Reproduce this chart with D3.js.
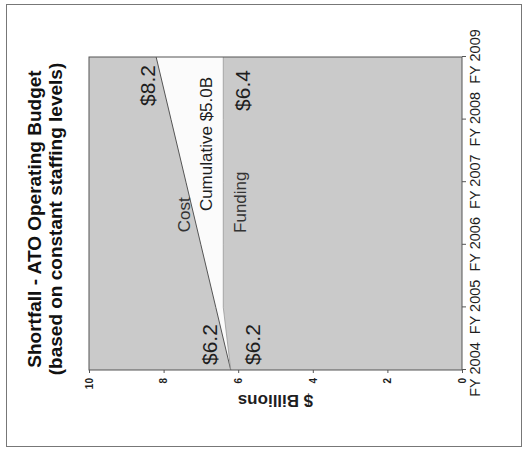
<!DOCTYPE html>
<html>
<head>
<meta charset="utf-8">
<script src="https://cdn.jsdelivr.net/npm/d3@7"></script>
<style>
  body { margin: 0; background: #fff; }
  svg { display: block; }
  text { font-family: "Liberation Sans", Arial, sans-serif; }
</style>
</head>
<body>
<svg id="chart" width="523" height="452"></svg>
<script>
// Fiscal years on the category axis
const years = ["FY 2004", "FY 2005", "FY 2006", "FY 2007", "FY 2008", "FY 2009"];
// Operating cost at constant staffing levels ($ billions)
const cost = [6.2, 6.6, 7.0, 7.4, 7.8, 8.2];
// Funding available ($ billions)
const funding = [6.2, 6.4, 6.4, 6.4, 6.4, 6.4];
// Value-axis ticks
const yTicks = [0, 2, 4, 6, 8, 10];
const titleLines = ["Shortfall - ATO Operating Budget", "(based on constant staffing levels)"];
const shortfallLabel = "Cumulative $5.0B";
const yTitle = "$ Billions";

const W = 523, H = 452;
const GRAY = "#cacaca";
const INK = "#1e1e1e";

const svg = d3.select("#chart");

// Slide frame
svg.append("rect")
  .attr("x", 6.5).attr("y", 4.5)
  .attr("width", 515).attr("height", 442)
  .attr("fill", "none").attr("stroke", "#777").attr("stroke-width", 1);

// The slide is laid out upright (H wide, W tall) and turned a quarter turn counter-clockwise.
const g = svg.append("g").attr("transform", `translate(0,${H}) rotate(-90)`);

const plot = { left: 82, right: 395, top: 89, bottom: 462 };

const x = d3.scalePoint().domain(years).range([plot.left, plot.right]);
const xi = d3.scaleLinear().domain([0, years.length - 1]).range([plot.left, plot.right]);
const y = d3.scaleLinear().domain([0, 10]).range([plot.bottom, plot.top]);

// Plot background
g.append("rect")
  .attr("x", plot.left).attr("y", plot.top)
  .attr("width", plot.right - plot.left).attr("height", plot.bottom - plot.top)
  .attr("fill", GRAY);

const area = d3.area()
  .x((d, i) => x(years[i]))
  .y0(y(0))
  .y1(d => y(d));
const line = d3.line()
  .x((d, i) => x(years[i]))
  .y(d => y(d));

// Cost area (white), funding area drawn over it (gray) leaves the shortfall wedge
g.append("path").datum(cost).attr("d", area).attr("fill", "#fbfbfb");
g.append("path").datum(funding).attr("d", area).attr("fill", GRAY);

g.append("path").datum(cost).attr("d", line)
  .attr("fill", "none").attr("stroke", "#555").attr("stroke-width", 1);
g.append("path").datum(funding).attr("d", line)
  .attr("fill", "none").attr("stroke", "#999").attr("stroke-width", 0.8);

// Plot border
g.append("rect")
  .attr("x", plot.left).attr("y", plot.top)
  .attr("width", plot.right - plot.left).attr("height", plot.bottom - plot.top)
  .attr("fill", "none").attr("stroke", "#555").attr("stroke-width", 1);

// Value axis
const yAxis = g.append("g")
  .attr("transform", `translate(${plot.left},0)`)
  .call(d3.axisLeft(y).tickValues(yTicks).tickSize(3).tickPadding(5).tickFormat(d3.format("d")));
yAxis.select(".domain").remove();
yAxis.selectAll("line").attr("stroke", "#555");
yAxis.selectAll("text")
  .attr("font-size", 10).attr("font-weight", "bold").attr("fill", INK)
  .style("font-family", '"Liberation Sans", Arial, sans-serif');

// Category axis
const xAxis = g.append("g")
  .attr("transform", `translate(0,${plot.bottom})`)
  .call(d3.axisBottom(x).tickSize(4).tickPadding(4));
xAxis.select(".domain").remove();
xAxis.selectAll("line").attr("stroke", "#555");
xAxis.selectAll("text")
  .attr("font-size", 14.5).attr("fill", INK)
  .style("font-family", '"Liberation Sans", Arial, sans-serif');

// Axis title
g.append("text")
  .attr("transform", `translate(57,${(plot.top + plot.bottom) / 2}) rotate(-90)`)
  .attr("text-anchor", "middle")
  .attr("font-size", 17).attr("font-weight", "bold").attr("fill", INK)
  .text(yTitle);

// Title
g.selectAll("text.title").data(titleLines).join("text")
  .attr("class", "title")
  .attr("x", 233)
  .attr("y", (d, i) => 41 + i * 21)
  .attr("text-anchor", "middle")
  .attr("font-size", 19).attr("font-weight", "bold").attr("fill", "#111")
  .text(d => d);

// Value labels at the end points
const last = years.length - 1;
const valueLabels = [
  { text: "$" + cost[last].toFixed(1), x: x(years[last]) - 8, y: y(cost[last]) - 1, anchor: "end" },
  { text: "$" + funding[last].toFixed(1), x: x(years[last]) - 13, y: y(funding[last]) + 27, anchor: "end" },
  { text: "$" + cost[0].toFixed(1), x: x(years[0]) + 5, y: y(cost[0]) - 14, anchor: "start" },
  { text: "$" + funding[0].toFixed(1), x: x(years[0]) + 5, y: y(funding[0]) + 29, anchor: "start" }
];
g.selectAll("text.value").data(valueLabels).join("text")
  .attr("class", "value")
  .attr("x", d => d.x).attr("y", d => d.y)
  .attr("text-anchor", d => d.anchor)
  .attr("font-size", 21).attr("fill", INK)
  .text(d => d.text);

// Series names and the shortfall note
const costAt = i => cost[0] + (cost[last] - cost[0]) * i / last;
const seriesLabels = [
  { text: "Cost", x: xi(2.48), y: y(costAt(2.48)) - 4, color: "#333" },
  { text: "Funding", x: xi(2.68), y: y(funding[last]) + 23, color: "#333" },
  { text: shortfallLabel, x: xi(3.61), y: y(funding[last]) - 11, color: INK }
];
g.selectAll("text.series").data(seriesLabels).join("text")
  .attr("class", "series")
  .attr("x", d => d.x).attr("y", d => d.y)
  .attr("text-anchor", "middle")
  .attr("font-size", 17).attr("fill", d => d.color)
  .text(d => d.text);
</script>
</body>
</html>
